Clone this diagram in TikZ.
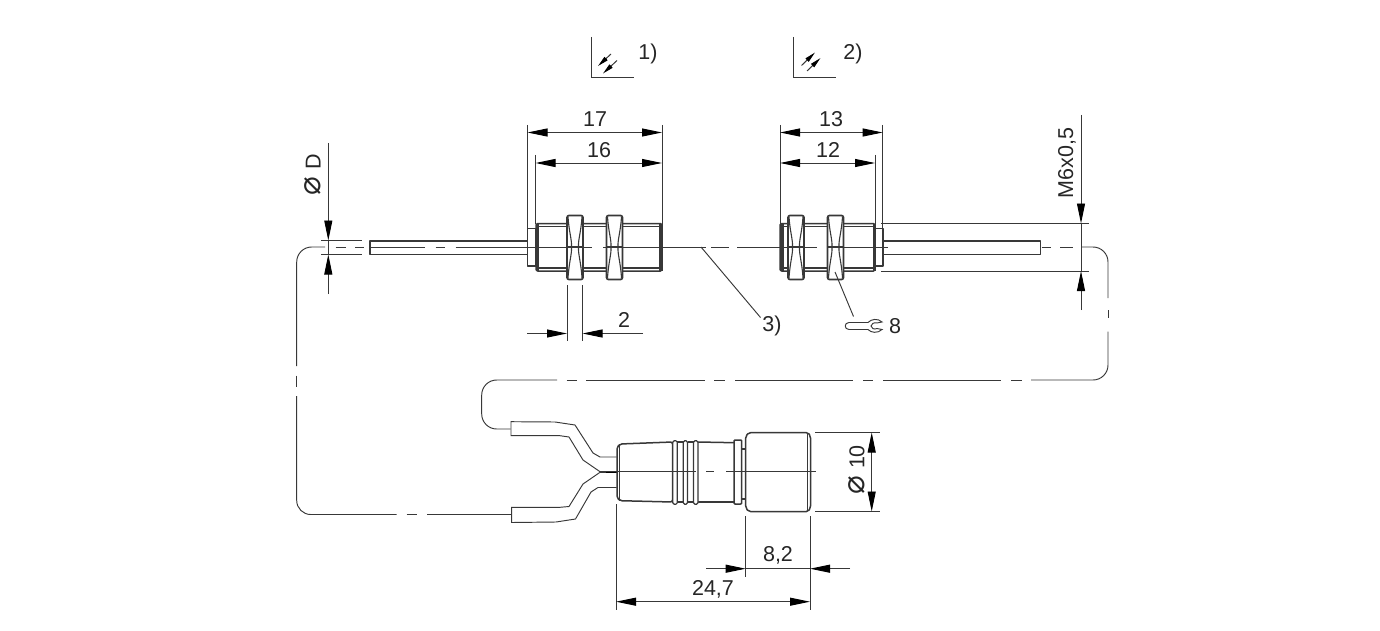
\documentclass[tikz,border=0pt]{standalone}
\usepackage{fontspec}
\setmainfont{Liberation Sans}
\newfontfamily\symfont[Scale=1.45]{DejaVu Sans}
\usetikzlibrary{arrows.meta}
\definecolor{ink}{gray}{0.22}
\tikzset{
  part/.style={draw=ink,line width=1.5pt,line join=round},
  band/.style={draw=ink,fill=ink,line width=0.6pt},
  wire/.style={draw=ink,line width=0.95pt},
  dimline/.style={draw=ink,line width=0.95pt},
  dimtip/.style={dimline,-{Triangle[length=20pt,width=8pt,color=black]}},
  dimboth/.style={dimline,{Triangle[length=20pt,width=8pt,color=black]}-{Triangle[length=20pt,width=8pt,color=black]}},
  viewtip/.style={line width=1pt,draw=ink,-{Triangle[length=11pt,width=4.5pt,color=black]}},
  label/.style={font=\fontsize{21.5}{21.5}\selectfont,text=black!85,inner sep=0pt}
}
\begin{document}
\begin{tikzpicture}[x=1pt,y=-1pt]
    \useasboundingbox (0,0) rectangle (1380,631);

    % view symbols
    \draw[wire] (591,37) -- (591,77.5) -- (634,77.5);
    \draw[wire] (793,37) -- (793,77.5) -- (836,77.5);
    \draw[viewtip] (611,54) -- (598,66);
    \draw[viewtip] (617,60.5) -- (603,73.5);
    \draw[viewtip] (801.5,65.5) -- (815,52.5);
    \draw[viewtip] (807,71) -- (820.5,58);
    \node[label] (note1) at (648,54) {1)};
    \node[label] (note2) at (853,54) {2)};

    % left sensor
    \draw[part] (370,241) rectangle (527.5,254.5);
    \draw[part] (527.5,228.5) rectangle (536,266);
    \draw[part,rounded corners=1.5pt] (536,223.5) rectangle (662,271);
    \draw[part] (536,226.5) -- (662,226.5);
    \draw[part] (536,268) -- (662,268);
    \fill[band] (536,224) rectangle (538,270.5);
    \fill[band] (659.5,224) rectangle (662,270.5);

    % right sensor
    \draw[part] (883,241) rectangle (1040.5,254.5);
    \draw[part] (875,228.5) rectangle (883,266);
    \draw[part,rounded corners=1.5pt] (780,223.5) rectangle (875,271);
    \draw[part] (780,226.5) -- (875,226.5);
    \draw[part] (780,268) -- (875,268);
    \fill[band] (780,224) rectangle (783,270.5);
    \fill[band] (873,224) rectangle (875,270.5);

    % nuts
    \foreach \x in {567,606.5,788,827.5} {
      \draw[part,line width=1.7pt,fill=white,rounded corners=2pt] (\x,215.5) rectangle (\x+16,279.5);
      \draw[part,line width=1.1pt] (\x+1,217) .. controls (\x+2,232) and (\x+5,240) .. (\x+4.5,247)
        .. controls (\x+5,254) and (\x+2,262) .. (\x+1,278);
      \draw[part,line width=1.1pt] (\x+15,217) .. controls (\x+14,232) and (\x+11,240) .. (\x+11.5,247)
        .. controls (\x+11,254) and (\x+14,262) .. (\x+15,278);
      \draw[part,line width=1.1pt] (\x,247) -- (\x+16,247);
    }

    % centre lines and the cable loop
    \draw[wire,rounded corners=15pt] (296.7,366) -- (296.7,247) -- (325,247);
    \draw[wire,rounded corners=15pt] (1081.7,247) -- (1108,247) -- (1108,298);
    \foreach \a/\b in {335.7/345.7,355/364,370/425,435.7/445,455.7/591.7,603/706,711/729,737/817,827/888,1041.7/1050.7,1060/1073} {
      \draw[wire] (\a,247) -- (\b,247);
    }
    \draw[wire] (1108,310) -- (1108,318);
    \draw[wire,rounded corners=15pt] (1108,331.5) -- (1108,380) -- (1031,380);
    \foreach \a/\b in {1011/1022,883/1001,863/873,735/853,714/725,586/705,566.5/577} {
      \draw[wire] (\a,380) -- (\b,380);
    }
    \draw[wire,rounded corners=15pt] (557,380) -- (481.7,380) -- (481.7,429) -- (510.7,429);
    \draw[wire] (296.7,375.7) -- (296.7,386.7);
    \draw[wire,rounded corners=14pt] (296.7,396) -- (296.7,514.5) -- (396.7,514.5);
    \draw[wire] (406.7,514.5) -- (417.3,514.5);
    \draw[wire] (427.3,514.5) -- (511.7,514.5);

    % connector leads
    \draw[wire] (616.5,457) -- (600,457) -- (593,453) -- (575,425) -- (555,422) -- (511,421.7)
      -- (511,435.7) -- (560,435.7) -- (569,437) -- (583,460) -- (600,471.7) -- (616.5,471.7);
    \draw[wire] (616.5,472.3) -- (600,472.3) -- (583,484) -- (569,506.5) -- (560,507.3) -- (511.7,507.3)
      -- (511.7,522.5) -- (556,522) -- (575.5,519) -- (591,492) -- (598,487.5) -- (616.5,487.5);
    \draw[line width=1.6pt] (606,472) -- (616.5,472);

    % connector body
    \draw[part,fill=white,rounded corners=2pt] (620,444) -- (672.5,442) -- (672.5,502) -- (620,500.7)
      -- (617,498) -- (617,447) -- cycle;
    \draw[wire] (619.7,444) -- (619.7,500.7);
    \draw[part] (698,442) -- (734,442.7);
    \draw[part] (698,502) -- (734,502);
    \draw[part] (677,442) -- (683.5,442);
    \draw[part] (687.5,442) -- (693.5,442);
    \draw[part] (677,502) -- (683.5,502);
    \draw[part] (687.5,502) -- (693.5,502);
    \foreach \a/\b in {672.7/677.3,683.3/687.5,693.5/698} {
      \draw[part,line width=1.2pt,fill=white,rounded corners=1.5pt] (\a,440.7) rectangle (\b,504.3);
    }
    \draw[part,rounded corners=1pt] (734,440) rectangle (741.7,504);
    \draw[part] (741.7,449) -- (745.7,449);
    \draw[part] (741.7,499) -- (745.7,499);
    \draw[part,rounded corners=2pt] (749,432.5) -- (808,432.5) -- (810.5,436) -- (810.5,508) -- (808,511.7)
      -- (749,511.7) -- (745.7,508) -- (745.7,436) -- cycle;
    \draw[wire] (807.7,433) -- (807.7,511);
    \foreach \a/\b in {606/696,706/714,726/816} {
      \draw[dimline] (\a,471.7) -- (\b,471.7);
    }

    % dimension 17 and 16
    \coordinate (a17) at (527.5,132.5);
    \coordinate (b17) at (662,132.5);
    \coordinate (a16) at (535.5,163);
    \coordinate (b16) at (662,163);
    \draw[dimline] (527.5,125) -- (527.5,229);
    \draw[dimline] (535.5,155) -- (535.5,224);
    \draw[dimline] (662,125) -- (662,224);
    \draw[dimboth] (a17) -- (b17);
    \draw[dimboth] (a16) -- (b16);
    \node[label] (t17) at (595,119) {17};
    \node[label] (t16) at (599,150) {16};

    % dimension 13 and 12
    \coordinate (a13) at (780,132.5);
    \coordinate (b13) at (882.7,132.5);
    \coordinate (a12) at (780,163);
    \coordinate (b12) at (875,163);
    \draw[dimline] (780,125) -- (780,224);
    \draw[dimline] (875,155) -- (875,224);
    \draw[dimline] (882.7,125) -- (882.7,228);
    \draw[dimboth] (a13) -- (b13);
    \draw[dimboth] (a12) -- (b12);
    \node[label] (t13) at (831,119) {13};
    \node[label] (t12) at (828,150) {12};

    % diameter D
    \coordinate (d0) at (328.3,143);
    \coordinate (d1) at (328.3,240.5);
    \coordinate (d2) at (328.3,294);
    \coordinate (d3) at (328.3,254.5);
    \draw[dimline] (321,240.5) -- (362,240.5);
    \draw[dimline] (321,254.5) -- (362,254.5);
    \draw[dimline] (d1) -- (d3);
    \draw[dimtip] (d0) -- (d1);
    \draw[dimtip] (d2) -- (d3);
    \node[label,rotate=90] (tD) at (313,175) {{\symfont ⌀}\,\,D};

    % thread
    \coordinate (m0) at (1081,115);
    \coordinate (m1) at (1081,223.5);
    \coordinate (m2) at (1081,310);
    \coordinate (m3) at (1081,271);
    \draw[dimline] (881,223.5) -- (1089,223.5);
    \draw[dimline] (881,271) -- (1089,271);
    \draw[dimline] (m1) -- (m3);
    \draw[dimtip] (m0) -- (m1);
    \draw[dimtip] (m2) -- (m3);
    \node[label,rotate=90] (tM) at (1067,163) {M6x0,5};

    % dimension 2
    \coordinate (w0) at (527,333.5);
    \coordinate (w1) at (567,333.5);
    \coordinate (w2) at (643,333.5);
    \coordinate (w3) at (582.5,333.5);
    \draw[dimline] (567,285) -- (567,341);
    \draw[dimline] (582.5,285) -- (582.5,341);
    \draw[dimtip] (w0) -- (w1);
    \draw[dimtip] (w2) -- (w3);
    \node[label] (t2) at (624,320) {2};

    % note 3 and wrench
    \coordinate (lead3) at (701,247);
    \coordinate (end3) at (760.5,317.5);
    \draw[dimline] (lead3) -- (end3);
    \node[label] (t3) at (772,326) {3)};
    \coordinate (lead8) at (835,272);
    \coordinate (end8) at (853.5,316.5);
    \draw[dimline] (lead8) -- (end8);
    \draw[wire] (868,322.5) -- (849,322.5) .. controls (844,322.5) and (844,329.5) .. (849,329.5) -- (868,329.5)
      .. controls (871,333) and (878,333.5) .. (882,329.5) -- (877,328.5)
      .. controls (874,330) and (871,328) .. (871,326) .. controls (871,324) and (874,322) .. (877,323)
      -- (882,322) .. controls (878,318) and (871,319) .. (868,322.5);
    \node[label] (t8) at (895,326) {8};

    % diameter 10
    \coordinate (e0) at (871.7,432.5);
    \coordinate (e1) at (871.7,511.5);
    \draw[dimline] (815,432.5) -- (880,432.5);
    \draw[dimline] (815,511.5) -- (880,511.5);
    \draw[dimboth] (e0) -- (e1);
    \node[label,rotate=90] (t10) at (856.7,470) {{\symfont ⌀}\,\,10};

    % dimension 8,2 and 24,7
    \coordinate (f0) at (706,568.7);
    \coordinate (f1) at (745.7,568.7);
    \coordinate (f2) at (850,568.7);
    \coordinate (f3) at (810,568.7);
    \coordinate (g0) at (616,601.7);
    \coordinate (g1) at (810,601.7);
    \draw[dimline] (745.7,516) -- (745.7,577);
    \draw[dimline] (810,516) -- (810,610);
    \draw[dimline] (616,504) -- (616,610);
    \draw[dimtip] (f0) -- (f1);
    \draw[dimtip] (f2) -- (f3);
    \draw[dimline] (f1) -- (f3);
    \draw[dimboth] (g0) -- (g1);
    \node[label] (t82) at (778,555) {8,2};
    \node[label] (t247) at (713,589) {24,7};
  \end{tikzpicture}
\end{document}
